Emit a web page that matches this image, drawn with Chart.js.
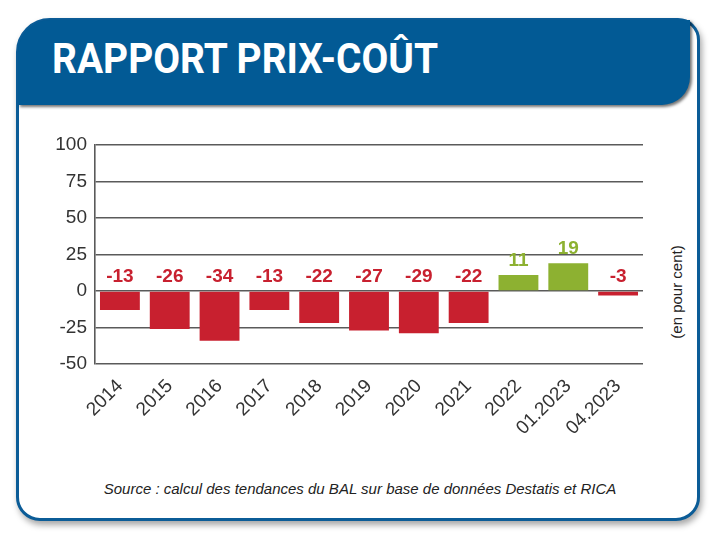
<!DOCTYPE html>
<html>
<head>
<meta charset="utf-8">
<script src="https://cdn.jsdelivr.net/npm/chart.js@4"></script>
<style>
  html, body { margin: 0; padding: 0; background: #fff; width: 720px; height: 539px; overflow: hidden; }
  #card {
    position: absolute; left: 16px; top: 18px; width: 678px; height: 497px;
    border: 3px solid #0b5c97; border-radius: 34px 22px 24px 24px;
    box-shadow: 2px 4px 6px rgba(0,0,0,0.35); background: #fff;
  }
  #header {
    position: absolute; left: -1px; top: -1px; width: 672px; height: 85px;
    background: #025a95; border-radius: 32px 0 28px 0;
    box-shadow: 2px 2px 3px rgba(0,0,0,0.55);
  }
  #title {
    position: absolute; left: 34px; top: 18px; color: #fff;
    font: bold 42px Roboto, "DejaVu Sans Condensed", sans-serif;
    white-space: nowrap; transform-origin: 0 0; line-height: 1;
  }
  #wrap { position: absolute; left: 30px; top: 125px; width: 620px; height: 312px; }
  #unit {
    position: absolute; left: 676px; top: 292px; transform: translate(-50%, -50%) rotate(-90deg);
    font: 15px "Liberation Sans Narrow", sans-serif; color: #222; white-space: nowrap;
  }
  #source {
    position: absolute; left: 0; width: 720px; top: 480px; text-align: center;
    font: italic 15px "Liberation Sans Narrow", sans-serif; color: #222;
  }
</style>
</head>
<body>
<div id="card"><div id="header"><div id="title">RAPPORT PRIX-COÛT</div></div></div>
<div id="wrap"><canvas id="myChart"></canvas></div>
<div id="unit">(en pour cent)</div>
<div id="source">Source : calcul des tendances du BAL sur base de données Destatis et RICA</div>
<script>
const labels = ['2014', '2015', '2016', '2017', '2018', '2019', '2020', '2021', '2022', '01.2023', '04.2023'];
const values = [-13, -26, -34, -13, -22, -27, -29, -22, 11, 19, -3];
const yTicks = [-50, -25, 0, 25, 50, 75, 100];

const red = '#c8202f';
const green = '#8db131';
const barColors = values.map(v => v < 0 ? red : green);

// squeeze the title to the condensed width of the original
const title = document.getElementById('title');
title.style.transform = 'scaleX(' + (386 / title.getBoundingClientRect().width) + ')';

// value labels: above the zero line for negative bars, above the bar for positive ones
const valueLabels = {
    id: 'valueLabels',
    afterDatasetsDraw(chart) {
        const ctx = chart.ctx;
        const meta = chart.getDatasetMeta(0);
        const y = chart.scales.y;
        ctx.save();
        ctx.font = 'bold 19px "Liberation Sans Narrow", sans-serif';
        ctx.textAlign = 'center';
        ctx.textBaseline = 'alphabetic';
        meta.data.forEach((bar, i) => {
            const v = values[i];
            const top = v < 0 ? y.getPixelForValue(0) : bar.y;
            ctx.fillStyle = barColors[i];
            ctx.fillText(String(v), bar.x, top - 9);
        });
        ctx.restore();
    }
};

const config = {
    type: 'bar',
    data: {
        labels: labels,
        datasets: [{
            data: values,
            backgroundColor: barColors,
            barPercentage: 0.8,
            categoryPercentage: 1.0
        }]
    },
    options: {
        responsive: true,
        maintainAspectRatio: false,
        animation: false,
        layout: { padding: { top: 20, right: 7, bottom: 0, left: 0 } },
        plugins: { legend: { display: false }, tooltip: { enabled: false } },
        scales: {
            x: {
                afterFit(scale) { scale.height = 73; },
                grid: { display: false },
                border: { display: false },
                ticks: {
                    color: '#333', maxRotation: 45, minRotation: 45,
                    font: { family: '"Liberation Sans Narrow", sans-serif', size: 19 }
                }
            },
            y: {
                min: -50, max: 100,
                afterFit(scale) { scale.width = 65; },
                afterBuildTicks(scale) { scale.ticks = yTicks.map(v => ({ value: v })); },
                grid: { color: '#5a5a5a', lineWidth: 1.6, drawTicks: false },
                border: { display: true, color: '#5a5a5a', width: 1.6 },
                ticks: {
                    color: '#333', padding: 8,
                    font: { family: '"Liberation Sans Narrow", sans-serif', size: 19 }
                }
            }
        }
    },
    plugins: [valueLabels]
};

const myChart = new Chart(document.getElementById('myChart'), config);
</script>
</body>
</html>
